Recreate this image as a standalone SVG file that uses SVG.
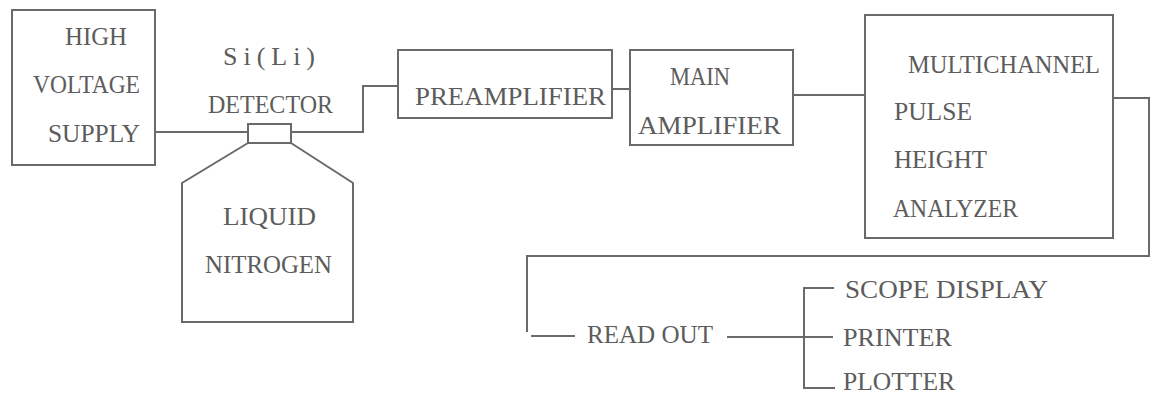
<svg xmlns="http://www.w3.org/2000/svg" width="1153" height="395" viewBox="0 0 1153 395">
<style>
.box{fill:none;stroke:#6a6a6a;stroke-width:2}
.ln{fill:none;stroke:#6a6a6a;stroke-width:2}
text{font-family:"Liberation Serif","DejaVu Serif",serif;font-size:26px;fill:#5c5c5c}
</style>
<rect width="1153" height="395" fill="#ffffff"/>
<g id="hv">
<rect class="box" x="12" y="10" width="143" height="155"/>
<text x="65" y="45" textLength="62" lengthAdjust="spacingAndGlyphs">HIGH</text>
<text x="33" y="93" textLength="107" lengthAdjust="spacingAndGlyphs">VOLTAGE</text>
<text x="48" y="142" textLength="92" lengthAdjust="spacingAndGlyphs">SUPPLY</text>
</g>
<g id="detector">
<rect class="box" x="248" y="124" width="43" height="19"/>
<text x="223" y="65" textLength="92" lengthAdjust="spacing">Si(Li)</text>
<text x="208" y="113" textLength="125" lengthAdjust="spacingAndGlyphs">DETECTOR</text>
</g>
<g id="dewar">
<path class="box" d="M248 143 L182 183 L182 322 L353 322 L353 183 L291 143"/>
<text x="223" y="225" textLength="93" lengthAdjust="spacingAndGlyphs">LIQUID</text>
<text x="205" y="273" textLength="127" lengthAdjust="spacingAndGlyphs">NITROGEN</text>
</g>
<g id="preamp">
<rect class="box" x="398" y="50" width="214" height="68"/>
<text x="415" y="105" textLength="191" lengthAdjust="spacingAndGlyphs">PREAMPLIFIER</text>
</g>
<g id="mainamp">
<rect class="box" x="630" y="50" width="163" height="95"/>
<text x="670" y="85" textLength="60" lengthAdjust="spacingAndGlyphs">MAIN</text>
<text x="638" y="134" textLength="143" lengthAdjust="spacingAndGlyphs">AMPLIFIER</text>
</g>
<g id="mca">
<rect class="box" x="865" y="15" width="248" height="223"/>
<text x="908" y="73" textLength="192" lengthAdjust="spacingAndGlyphs">MULTICHANNEL</text>
<text x="894" y="120" textLength="78" lengthAdjust="spacingAndGlyphs">PULSE</text>
<text x="894" y="168" textLength="93" lengthAdjust="spacingAndGlyphs">HEIGHT</text>
<text x="893" y="217" textLength="125" lengthAdjust="spacingAndGlyphs">ANALYZER</text>
</g>
<g id="readout">
<text x="587" y="343" textLength="126" lengthAdjust="spacingAndGlyphs">READ OUT</text>
</g>
<g id="outputs">
<text x="845" y="298" textLength="203" lengthAdjust="spacingAndGlyphs">SCOPE DISPLAY</text>
<text x="843" y="346" textLength="109" lengthAdjust="spacingAndGlyphs">PRINTER</text>
<text x="843" y="390" font-size="24" textLength="112" lengthAdjust="spacingAndGlyphs">PLOTTER</text>
</g>
<g id="connectors">
<path class="ln" d="M155 132 L248 132"/>
<path class="ln" d="M291 132 L363 132 L363 86 L398 86"/>
<path class="ln" d="M612 89 L630 89"/>
<path class="ln" d="M793 95 L865 95"/>
<path class="ln" d="M1113 98 L1149 98 L1149 256 L527 256 L527 332"/>
<path class="ln" d="M531 336 L575 336"/>
<path class="ln" d="M727 337 L833 337"/>
<path class="ln" d="M834 288 L804 288 L804 388 L835 388"/>
</g>
</svg>
